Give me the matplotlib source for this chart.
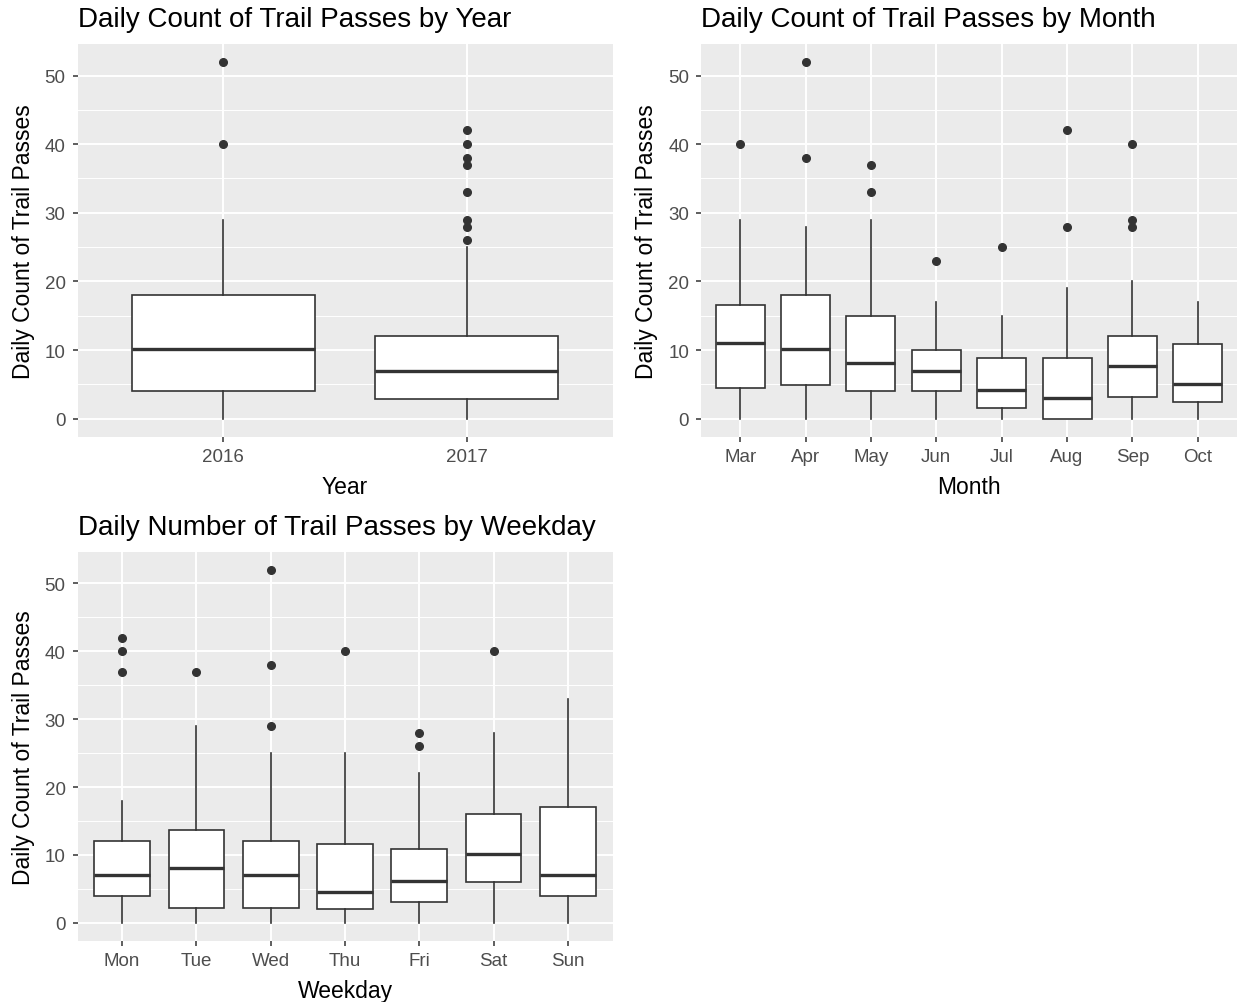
import matplotlib
matplotlib.use("Agg")
import matplotlib.pyplot as plt
from matplotlib.ticker import MultipleLocator

plt.rcParams["font.family"] = ["Liberation Sans", "DejaVu Sans"]

# (whislo, q1, med, q3, whishi, fliers)
YEARS = ["2016", "2017"]
YEAR_STATS = [
    (0, 4, 10.1, 18, 29, [40, 52]),
    (0, 2.8, 7, 12, 25, [26, 28, 29, 33, 37, 38, 40, 42]),
]

MONTHS = ["Mar", "Apr", "May", "Jun", "Jul", "Aug", "Sep", "Oct"]
MONTH_STATS = [
    (0, 4.5, 11, 16.5, 29, [40]),
    (0, 4.9, 10.1, 18, 28, [38, 52]),
    (0, 4, 8.1, 15, 29, [33, 37]),
    (0, 4, 7, 10, 17, [23]),
    (0, 1.5, 4.2, 8.9, 15, [25]),
    (0, 0, 3, 8.9, 19, [28, 42]),
    (0, 3.1, 7.7, 12, 20, [28, 29, 40]),
    (0, 2.4, 5, 10.9, 17, []),
]

WEEKDAYS = ["Mon", "Tue", "Wed", "Thu", "Fri", "Sat", "Sun"]
WEEKDAY_STATS = [
    (0, 4, 7, 12, 18, [37, 40, 42]),
    (0, 2.2, 8.1, 13.7, 29, [37]),
    (0, 2.2, 7, 12, 25, [29, 38, 52]),
    (0, 2, 4.6, 11.6, 25, [40]),
    (0, 3, 6.2, 10.9, 22, [26, 28]),
    (0, 6, 10.2, 16, 28, [40]),
    (0, 4, 7, 17, 33, []),
]

PANEL_BG = "#EBEBEB"
DARK = "#333333"
TICK_GREY = "#4D4D4D"


def draw_panel(ax, cats, stats, title, xlabel):
    n = len(cats)
    bxp_stats = []
    for lo, q1, med, q3, hi, fl in stats:
        bxp_stats.append({"whislo": lo, "q1": q1, "med": med, "q3": q3,
                          "whishi": hi, "fliers": fl})
    pos = list(range(1, n + 1))
    ax.bxp(bxp_stats, positions=pos, widths=0.75, showcaps=False,
           patch_artist=True,
           boxprops=dict(facecolor="white", edgecolor=DARK, linewidth=1.2),
           medianprops=dict(color=DARK, linewidth=2.4, solid_capstyle="butt"),
           whiskerprops=dict(color=DARK, linewidth=1.2),
           flierprops=dict(marker="o", markerfacecolor=DARK, markeredgecolor=DARK,
                           markersize=5.5, linestyle="none"),
           zorder=3)
    ax.set_facecolor(PANEL_BG)
    ax.set_xlim(0.4, n + 0.6)
    ax.set_ylim(-2.6, 54.6)
    ax.set_xticks(pos)
    ax.set_xticklabels(cats)
    ax.yaxis.set_major_locator(MultipleLocator(10))
    ax.yaxis.set_minor_locator(MultipleLocator(5))
    ax.grid(which="major", color="white", linewidth=1.4, zorder=0)
    ax.grid(which="minor", axis="y", color="white", linewidth=0.7, zorder=0)
    ax.set_axisbelow(True)
    for s in ax.spines.values():
        s.set_visible(False)
    ax.tick_params(which="major", length=3.5, width=1.1, color=DARK,
                   labelsize=13.5, labelcolor=TICK_GREY, pad=5)
    ax.tick_params(which="minor", length=0)
    ax.set_title(title, loc="left", fontsize=20, color="black", pad=13)
    ax.set_xlabel(xlabel, fontsize=16.5, color="black", labelpad=7)
    ax.set_ylabel("Daily Count of Trail Passes", fontsize=16.5, color="black", labelpad=7)


fig = plt.figure(figsize=(12.38, 10.03), dpi=100)
ax1 = fig.add_axes([77.5 / 1238, 1 - 437.5 / 1003, 535 / 1238, 392.5 / 1003])
ax2 = fig.add_axes([701 / 1238, 1 - 437.5 / 1003, 536 / 1238, 392.5 / 1003])
ax3 = fig.add_axes([77.5 / 1238, 1 - 941.5 / 1003, 535 / 1238, 388.5 / 1003])

draw_panel(ax1, YEARS, YEAR_STATS, "Daily Count of Trail Passes by Year", "Year")
draw_panel(ax2, MONTHS, MONTH_STATS, "Daily Count of Trail Passes by Month", "Month")
draw_panel(ax3, WEEKDAYS, WEEKDAY_STATS, "Daily Number of Trail Passes by Weekday", "Weekday")

fig.savefig("out.png", dpi=100)
